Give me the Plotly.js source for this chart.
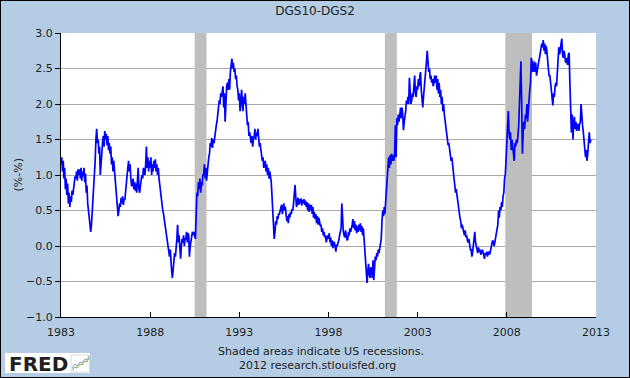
<!DOCTYPE html>
<html>
<head>
<meta charset="utf-8">
<script src="https://cdn.plot.ly/plotly-3.0.1.min.js"></script>
<style>
html, body { margin: 0; padding: 0; background: #ffffff; }
#chart { width: 628px; height: 376px; border: 1px solid #000000; }
</style>
</head>
<body>
<div id="chart"></div>
<script>
// ---- DATA (semi-monthly readings: 1st and 16th of each month) ----
const startYear = 1983;

const spread1980s = [
  // 1983
  1.15,1.25, 1.05,1.2, 0.95,1.1, 0.8,0.95, 0.72,0.88, 0.6,0.75, 0.55,0.7, 0.62,0.78, 0.72,0.85, 0.9,0.98, 0.95,1.05, 0.92,1.08,
  // 1984
  1.0,1.08, 0.95,1.1, 0.92,1.05, 0.98,1.1, 0.9,1.02, 0.75,0.85, 0.6,0.5, 0.35,0.25, 0.2,0.3, 0.45,0.6, 0.8,0.95, 1.2,1.5,
  // 1985
  1.65,1.45, 1.5,1.3, 1.4,1.0, 1.2,1.35, 1.45,1.55, 1.4,1.62, 1.5,1.58, 1.42,1.55, 1.35,1.45, 1.3,1.4, 1.15,1.25, 1.05,1.2,
  // 1986
  1.05,0.9, 0.85,0.7, 0.55,0.42, 0.5,0.6, 0.55,0.68, 0.6,0.7, 0.58,0.66, 0.65,0.8, 0.9,1.0, 1.1,1.2, 1.05,1.15, 0.95,0.85,
  // 1987
  0.85,0.95, 0.8,0.9, 0.78,0.88, 0.75,0.95, 1.1,0.8, 0.75,0.85, 0.9,1.0, 0.95,1.1, 1.05,1.0, 1.15,1.4, 1.1,1.25, 1.05,1.2,
  // 1988
  1.1,1.25, 1.0,1.15, 1.05,1.2, 1.1,1.22, 1.05,1.15, 1.0,1.1, 0.95,0.85, 0.8,0.7, 0.6,0.5, 0.45,0.38, 0.3,0.2, 0.1,0.05,
  // 1989
  0.0,-0.1, -0.15,-0.05, -0.25,-0.35, -0.45,-0.3, -0.2,-0.1, -0.15,-0.05, 0.1,0.3, 0.05,0.15, -0.1,-0.18, 0.0,0.1, 0.05,0.15, 0.0,0.1
];

const spread1990s = [
  // 1990
  0.1,0.2, 0.05,0.18, 0.15,-0.15, 0.0,0.1, 0.12,0.2, 0.15,0.2, 0.15,0.1, 0.45,0.75, 0.7,0.9, 0.8,0.95, 0.75,0.9, 0.85,1.0,
  // 1991
  1.0,1.15, 0.95,1.1, 0.92,1.05, 1.1,1.25, 1.3,1.45, 1.4,1.52, 1.38,1.5, 1.45,1.55, 1.6,1.7, 1.75,1.85, 1.9,2.05, 2.0,2.15,
  // 1992
  2.1,2.2, 2.25,1.95, 2.15,1.75, 2.1,2.25, 2.3,2.2, 2.35,2.2, 2.45,2.55, 2.64,2.5, 2.58,2.45, 2.5,2.35, 2.4,2.25, 2.2,2.05,
  // 1993
  2.15,1.9, 2.0,2.2, 2.05,1.9, 2.1,2.0, 2.15,1.95, 1.85,1.7, 1.75,1.55, 1.6,1.5, 1.45,1.55, 1.4,1.5, 1.55,1.65, 1.5,1.6,
  // 1994
  1.55,1.65, 1.5,1.4, 1.45,1.35, 1.3,1.2, 1.25,1.1, 1.15,1.2, 1.05,1.15, 1.0,1.1, 0.95,1.05, 0.98,0.9, 0.7,0.45, 0.25,0.1,
  // 1995
  0.2,0.35, 0.3,0.42, 0.38,0.45, 0.45,0.5, 0.5,0.58, 0.45,0.55, 0.6,0.5, 0.55,0.45, 0.35,0.42, 0.32,0.45, 0.4,0.48, 0.45,0.52,
  // 1996
  0.5,0.6, 0.75,0.86, 0.7,0.55, 0.6,0.68, 0.58,0.66, 0.6,0.67, 0.57,0.65, 0.6,0.66, 0.58,0.64, 0.55,0.62, 0.5,0.6, 0.48,0.58,
  // 1997
  0.5,0.58, 0.45,0.55, 0.4,0.48, 0.38,0.45, 0.32,0.42, 0.3,0.4, 0.35,0.28, 0.3,0.2, 0.25,0.15, 0.2,0.12, 0.15,0.05, 0.1,0.15,
  // 1998
  0.1,0.18, 0.05,0.12, 0.0,0.08, -0.03,0.06, 0.05,-0.02, -0.08,0.02, 0.0,0.05, 0.08,0.15, 0.2,0.25, 0.6,0.35, 0.2,0.15, 0.12,0.22,
  // 1999
  0.15,0.08, 0.1,0.2, 0.15,0.25, 0.2,0.3, 0.3,0.38, 0.25,0.35, 0.22,0.3, 0.18,0.28, 0.2,0.3, 0.22,0.32, 0.2,0.28, 0.15,0.25
];

const spread2000s = [
  // 2000
  0.1,-0.05, -0.15,-0.3, -0.52,-0.35, -0.25,-0.4, -0.45,-0.3, -0.35,-0.45, -0.2,-0.48, -0.25,-0.15, -0.2,-0.1, -0.15,-0.05, -0.1,0.0, 0.05,0.1,
  // 2001
  0.35,0.5, 0.42,0.55, 0.45,0.6, 0.85,1.05, 1.15,1.25, 1.1,1.28, 1.15,1.3, 1.2,1.28, 1.2,1.3, 1.7,1.25, 1.8,1.7, 1.85,1.75,
  // 2002
  1.85,1.95, 1.8,1.95, 1.85,1.63, 1.75,1.8, 1.9,2.05, 2.0,2.1, 2.0,2.37, 2.1,2.0, 2.05,2.15, 2.1,2.2, 2.4,2.15, 2.1,2.25,
  // 2003
  2.2,2.35, 2.25,2.4, 2.45,2.2, 2.05,1.95, 2.1,2.2, 2.3,2.5, 2.6,2.75, 2.6,2.45, 2.5,2.35, 2.4,2.3, 2.35,2.25, 2.3,2.4,
  // 2004
  2.3,2.4, 2.2,2.35, 2.15,2.3, 2.1,2.2, 2.0,2.1, 1.9,2.0, 1.85,1.75, 1.65,1.55, 1.5,1.42, 1.45,1.35, 1.3,1.2, 1.25,1.12,
  // 2005
  1.05,0.95, 0.85,0.75, 0.8,0.72, 0.6,0.5, 0.45,0.4, 0.35,0.25, 0.3,0.22, 0.2,0.15, 0.22,0.12, 0.15,0.08, 0.05,0.1, 0.0,-0.05,
  // 2006
  -0.05,-0.15, -0.08,0.02, 0.1,0.2, 0.05,0.0, -0.05,-0.1, -0.02,-0.08, -0.05,-0.12, -0.1,-0.05, -0.08,-0.15, -0.18,-0.1, -0.12,-0.08, -0.15,-0.1,
  // 2007
  -0.08,-0.12, -0.05,0.0, 0.02,0.08, 0.05,0.0, 0.05,0.1, 0.15,0.25, 0.3,0.5, 0.4,0.55, 0.5,0.62, 0.55,0.7, 0.75,0.95, 1.0,1.2,
  // 2008
  1.45,1.8, 1.9,1.6, 1.5,1.6, 1.35,1.5, 1.4,1.3, 1.2,1.45, 1.4,1.5, 1.45,1.55, 1.7,2.0, 2.3,2.6, 2.0,1.3, 1.6,1.75,
  // 2009
  1.65,1.85, 1.8,2.0, 1.75,1.95, 2.0,2.2, 2.3,2.65, 2.6,2.45, 2.5,2.6, 2.45,2.58, 2.4,2.5, 2.5,2.6, 2.65,2.75, 2.75,2.85
];

const spread2010s = [
  // 2010
  2.8,2.9, 2.75,2.85, 2.7,2.82, 2.75,2.55, 2.5,2.4, 2.4,2.3, 2.2,2.1, 1.98,2.15, 2.1,2.25, 2.3,2.25, 2.5,2.75, 2.8,2.7,
  // 2011
  2.75,2.85, 2.92,2.7, 2.65,2.75, 2.7,2.6, 2.58,2.65, 2.55,2.7, 2.72,2.3, 2.0,1.6, 1.85,1.5, 1.7,1.82, 1.65,1.75, 1.62,1.72,
  // 2012 (through September)
  1.7,1.62, 1.72,1.75, 2.0,1.8, 1.7,1.6, 1.5,1.3, 1.25,1.35, 1.2,1.3, 1.45,1.6, 1.45,1.5
];

const recessionStarts = ['1990-07-01', '2001-03-01', '2007-12-01'];
const recessionEnds   = ['1991-03-01', '2001-11-01', '2009-06-01'];

const tickYears = [1983, 1988, 1993, 1998, 2003, 2008, 2013];
const yTickValues = [-1.0, -0.5, 0.0, 0.5, 1.0, 1.5, 2.0, 2.5, 3.0];
const yRange = [-1.0, 3.0];

// ---- BUILD ----
const spreadValues = spread1980s.concat(spread1990s, spread2000s, spread2010s);
const spreadDates = spreadValues.map((v, i) => {
  const yr = startYear + Math.floor(i / 24);
  const mo = Math.floor((i % 24) / 2) + 1;
  const dy = (i % 2 === 0) ? '01' : '16';
  return yr + '-' + String(mo).padStart(2, '0') + '-' + dy;
});

const traces = [];
recessionStarts.forEach((s, k) => {
  const e = recessionEnds[k];
  traces.push({
    type: 'scatter', mode: 'lines',
    x: [s, s, e, e, s],
    y: [yRange[0], yRange[1], yRange[1], yRange[0], yRange[0]],
    fill: 'toself', fillcolor: 'rgb(190,190,190)',
    line: { width: 0, color: 'rgb(190,190,190)' },
    hoverinfo: 'skip', showlegend: false
  });
});
traces.push({
  type: 'scatter', mode: 'lines',
  x: spreadDates, y: spreadValues,
  line: { color: '#0000FF', width: 1.7 },
  showlegend: false
});

// pixel -> paper helpers for decorative elements outside the plot
const W = 628, H = 376, ML = 60, MR = 33, MT = 32, MB = 60;
const PW = W - ML - MR, PH = H - MT - MB;
const px = x => (x - ML) / PW;
const py = y => (H - MB - y) / PH;

const font = 'DejaVu Sans, Verdana, sans-serif';

const greenPts = [[71,369],[74,366],[76,367],[79,363],[81,364],[84,360],[86,361],[88,357]];
const bluePts  = [[71,367],[74,363],[76,365],[79,361],[81,362],[84,358],[86,359],[88,355]];
const toPath = pts => pts.map((p, i) => (i ? 'L' : 'M') + px(p[0]) + ',' + py(p[1])).join(' ');

const layout = {
  width: W, height: H,
  paper_bgcolor: 'rgb(180,205,229)',
  plot_bgcolor: '#ffffff',
  margin: { l: ML, r: MR, t: MT, b: MB, pad: 0 },
  showlegend: false,
  hovermode: false,
  font: { family: font, size: 11, color: '#222222' },
  title: {
    text: 'DGS10-DGS2',
    font: { family: font, size: 12, color: '#222222' },
    x: 0.5, xref: 'container', xanchor: 'center',
    y: 1 - 10 / H, yref: 'container', yanchor: 'middle'
  },
  xaxis: {
    type: 'date',
    range: [tickYears[0] + '-01-01', tickYears[tickYears.length - 1] + '-01-01'],
    tickvals: tickYears.map(y => y + '-01-01'),
    ticktext: tickYears.map(String),
    ticks: 'inside', ticklen: 5, tickwidth: 1, tickcolor: '#000000',
    showline: true, linecolor: '#000000', linewidth: 1,
    showgrid: false, zeroline: false,
    ticklabelstandoff: 5,
    tickfont: { family: font, size: 11, color: '#222222' },
    fixedrange: true
  },
  yaxis: {
    range: yRange,
    tickvals: yTickValues,
    tickformat: '.1f',
    ticks: 'outside', ticklen: 5, tickwidth: 1, tickcolor: '#000000',
    showline: true, linecolor: '#000000', linewidth: 1,
    showgrid: true, gridcolor: '#AAAAAA', gridwidth: 1,
    zeroline: false,
    tickfont: { family: font, size: 11, color: '#222222' },
    fixedrange: true
  },
  shapes: [
    { type: 'rect', xref: 'paper', yref: 'paper', x0: px(4), x1: px(89), y0: py(372), y1: py(352),
      fillcolor: '#ffffff', line: { width: 0 }, layer: 'above' },
    { type: 'rect', xref: 'paper', yref: 'paper', x0: px(70), x1: px(88.5), y0: py(371), y1: py(354),
      fillcolor: 'rgba(0,0,0,0)', line: { width: 1, color: '#dddddd' }, layer: 'above' },
    { type: 'path', xref: 'paper', yref: 'paper', path: toPath(greenPts),
      line: { width: 1, color: '#7fae3f' }, layer: 'above' },
    { type: 'path', xref: 'paper', yref: 'paper', path: toPath(bluePts),
      line: { width: 1, color: '#7f9fcf' }, layer: 'above' }
  ],
  annotations: [
    { text: '(%-%)', xref: 'paper', yref: 'paper', x: px(16.5), y: 0.5,
      textangle: -90, showarrow: false, xanchor: 'center', yanchor: 'middle',
      font: { family: font, size: 11, color: '#222222' } },
    { text: 'Shaded areas indicate US recessions.', xref: 'paper', yref: 'paper',
      x: px(320), y: py(350.5), showarrow: false, xanchor: 'center', yanchor: 'middle',
      font: { family: font, size: 11, color: '#222222' } },
    { text: '2012 research.stlouisfed.org', xref: 'paper', yref: 'paper',
      x: px(316), y: py(364), showarrow: false, xanchor: 'center', yanchor: 'middle',
      font: { family: font, size: 11, color: '#222222' } },
    { text: '<b>FRED</b>', xref: 'paper', yref: 'paper',
      x: px(37), y: py(363), showarrow: false, xanchor: 'center', yanchor: 'middle',
      font: { family: font, size: 20, color: '#231f20' } }
  ]
};

Plotly.newPlot('chart', traces, layout, { staticPlot: true, displayModeBar: false });
</script>
</body>
</html>
